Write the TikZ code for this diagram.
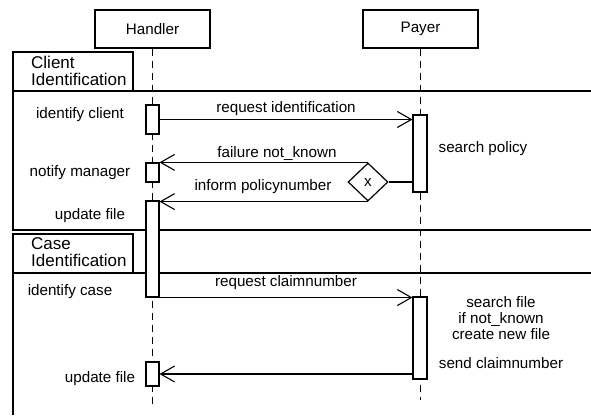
\documentclass[tikz,border=0pt]{standalone}
\usepackage{fontspec}
\setmainfont{Liberation Sans}
\usetikzlibrary{shapes.geometric,arrows.meta}
\begin{document}
\begin{tikzpicture}[x=1pt,y=-1pt,
  every node/.style={font=\fontsize{15.2}{16}\selectfont, inner sep=0pt},
  actor/.style={draw, line width=1.2pt, fill=white, minimum width=115pt, minimum height=38pt},
  act/.style={draw, line width=1.1pt, fill=white, minimum width=13pt},
  life/.style={line width=0.8pt, dash pattern=on 7pt off 5pt},
  frame/.style={line width=1.2pt},
  msg/.style={line width=1.2pt, -{Straight Barb[length=14pt,width=16pt,line width=1.1pt]}},
  plain/.style={line width=1.2pt},
  ftitle/.style={font=\fontsize{17}{17}\selectfont, align=left, anchor=west},
  lbl/.style={align=center}]
\useasboundingbox (0,0) rectangle (591,415);
% actors
\node[actor] (handler) at (152.5,29) {Handler};
\node[actor] (payer) at (420.5,29) {Payer};
\coordinate (hend) at (152.5,408);
\coordinate (pend) at (420.5,400);
\draw[life] (handler.south) -- (hend);
\draw[life] (payer.south) -- (pend);
% frames
\draw[frame] (13,52) rectangle (133,91);
\draw[frame] (13,91) -- (591,91);
\draw[frame] (13,52) -- (13,230) -- (591,230);
\draw[frame] (13,234) rectangle (133,273);
\draw[frame] (13,273) -- (591,273);
\draw[frame] (13,234) -- (13,415);
\node[ftitle] (t1) at (31,71) {Client\\Identification};
\node[ftitle] (t2) at (31,252) {Case\\Identification};
% activations
\node[act, minimum height=29pt] (h1) at (152.5,119.5) {};
\node[act, minimum height=19pt] (h2) at (152.5,172.5) {};
\node[act, minimum height=96pt] (h3) at (152.5,249) {};
\node[act, minimum height=24pt] (h4) at (152.5,374) {};
\node[act, minimum width=14pt, minimum height=77pt] (p1) at (420,153.5) {};
\node[act, minimum width=14pt, minimum height=82pt] (p2) at (420,338) {};
% decision
\node[draw, diamond, line width=1.2pt, fill=white, minimum width=40pt, minimum height=38pt] (dia) at (368,182) {x};
% messages
\draw[msg] (h1.east) -- (h1.east -| p1.west);
\draw[plain] (dia.east) -- (dia.east -| p1.west);
\draw[msg] (dia.north) -- (dia.north -| h2.east);
\draw[msg] (dia.south) -- (dia.south -| h3.east);
\draw[msg] (h3.south east) -- (h3.south east -| p2.west);
\draw[msg] (p2.west |- h4.east) -- (h4.east);
% message labels
\node (m1) at (286,109) {request identification};
\node (m2) at (277,154) {failure not\_known};
\node (m3) at (263,187) {inform policynumber};
\node (m4) at (286,283) {request claimnumber};
% left labels
\node (l1) at (80,115) {identify client};
\node (l2) at (80,173) {notify manager};
\node (l3) at (90,216) {update file};
\node (l4) at (70,292) {identify case};
\node (l5) at (100,379) {update file};
% right labels
\node (r1) at (483,149) {search policy};
\node[lbl] (r2) at (501,318) {search file\\if not\_known\\create new file};
\node (r3) at (501,363) {send claimnumber};
\end{tikzpicture}
\end{document}
